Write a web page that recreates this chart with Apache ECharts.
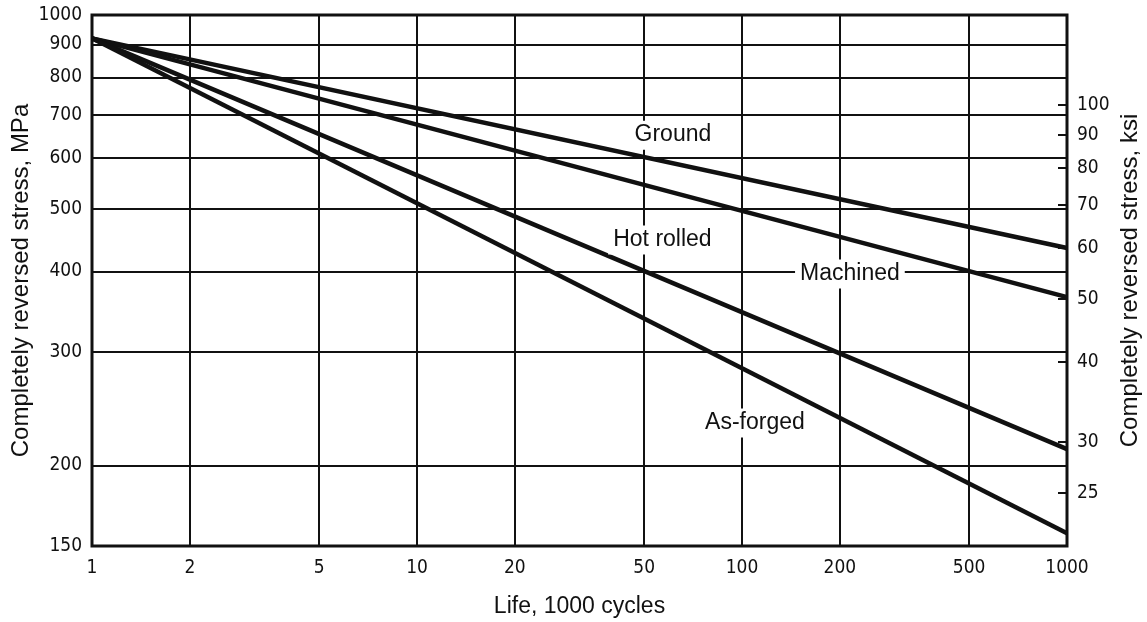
<!DOCTYPE html>
<html>
<head>
<meta charset="utf-8">
<script src="https://cdn.jsdelivr.net/npm/echarts@6/dist/echarts.min.js"></script>
<style>
  html, body { margin: 0; padding: 0; background: #fff; }
  #chart { width: 1147px; height: 622px; }
</style>
</head>
<body>
<div id="chart"></div>
<script>
// Fatigue (S-N) curves on log-log axes: stress amplitude vs life for four surface finishes
const lifeTicks = [1, 2, 5, 10, 20, 50, 100, 200, 500, 1000];
const stressTicks = [150, 200, 300, 400, 500, 600, 700, 800, 900, 1000];
const ksiTicks = [25, 30, 40, 50, 60, 70, 80, 90, 100];
const ksiMin = 20.7;
const ksiMax = 138;

// Life in thousands of cycles, stress in MPa
const life = [1, 1000];
const ground = [920, 435];
const machined = [920, 365];
const hotRolled = [920, 212];
const asForged = [920, 157];

// Curve captions placed in data space
const noteNames = ['Ground', 'Hot rolled', 'Machined', 'As-forged'];
const noteLife = [61.3, 56.9, 214.8, 109.6];
const noteStress = [651, 447.7, 396.3, 232.8];

const INK = '#111';
const tickFont = "'Liberation Sans Narrow', 'DejaVu Sans Condensed', 'Liberation Sans', sans-serif";
const textFont = "'Liberation Sans', Arial, sans-serif";

// plain integers, no thousands separator
const plain = v => String(Math.round(v));

function curve(name, values) {
  return {
    name: name,
    type: 'line',
    xAxisIndex: 0,
    yAxisIndex: 0,
    showSymbol: false,
    silent: true,
    z: 3,
    lineStyle: { color: INK, width: 4.5 },
    data: life.map((x, i) => [x, values[i]])
  };
}

const chart = echarts.init(document.getElementById('chart'), null, { renderer: 'canvas' });

chart.setOption({
  animation: false,
  backgroundColor: '#fff',
  grid: {
    left: 92, right: 80, top: 15, bottom: 76,
    outerBoundsMode: 'none',
    containLabel: false,
    show: true,
    borderColor: INK,
    borderWidth: 3,
    backgroundColor: 'transparent'
  },
  xAxis: {
    type: 'log',
    logBase: 10,
    min: 1,
    max: 1000,
    name: 'Life, 1000 cycles',
    nameLocation: 'middle',
    nameGap: 49,
    nameMoveOverlap: false,
    nameTextStyle: { fontFamily: textFont, fontSize: 23, color: INK },
    axisLine: { show: false },
    axisTick: { show: false, customValues: lifeTicks },
    minorTick: { show: false },
    axisLabel: {
      customValues: lifeTicks,
      formatter: plain,
      margin: 13,
      fontFamily: tickFont,
      fontSize: 19,
      color: INK
    },
    splitLine: { show: true, lineStyle: { color: INK, width: 2 } }
  },
  yAxis: [
    {
      type: 'log',
      logBase: 10,
      min: 150,
      max: 1000,
      name: 'Completely reversed stress, MPa',
      nameLocation: 'middle',
      nameRotate: 90,
      nameGap: 59,
      nameMoveOverlap: false,
      nameTextStyle: { fontFamily: textFont, fontSize: 24, color: INK },
      axisLine: { show: false },
      axisTick: { show: false, customValues: stressTicks },
      minorTick: { show: false },
      axisLabel: {
        customValues: stressTicks,
        formatter: plain,
        margin: 10,
        fontFamily: tickFont,
        fontSize: 19,
        color: INK
      },
      splitLine: { show: true, lineStyle: { color: INK, width: 2 } }
    },
    {
      type: 'log',
      logBase: 10,
      min: ksiMin,
      max: ksiMax,
      position: 'right',
      name: 'Completely reversed stress, ksi',
      nameLocation: 'middle',
      nameRotate: 90,
      nameGap: 51,
      nameMoveOverlap: false,
      nameTextStyle: { fontFamily: textFont, fontSize: 24, color: INK },
      axisLine: { show: false },
      axisTick: {
        show: true,
        inside: true,
        length: 9,
        customValues: ksiTicks,
        lineStyle: { color: INK, width: 2 }
      },
      minorTick: { show: false },
      axisLabel: {
        customValues: ksiTicks,
        formatter: plain,
        margin: 10,
        fontFamily: tickFont,
        fontSize: 19,
        color: INK
      },
      splitLine: { show: false }
    }
  ],
  series: [
    curve('Ground', ground),
    curve('Machined', machined),
    curve('Hot rolled', hotRolled),
    curve('As-forged', asForged),
    {
      name: 'captions',
      type: 'scatter',
      silent: true,
      symbolSize: 1,
      itemStyle: { color: 'rgba(0,0,0,0)', opacity: 1 },
      z: 4,
      label: {
        show: true,
        position: 'inside',
        formatter: '{b}',
        fontFamily: textFont,
        fontSize: 23,
        color: INK,
        opacity: 1,
        backgroundColor: '#fff',
        padding: [3, 5]
      },
      data: noteNames.map((n, i) => ({ name: n, value: [noteLife[i], noteStress[i]] }))
    }
  ]
});
</script>
</body>
</html>
